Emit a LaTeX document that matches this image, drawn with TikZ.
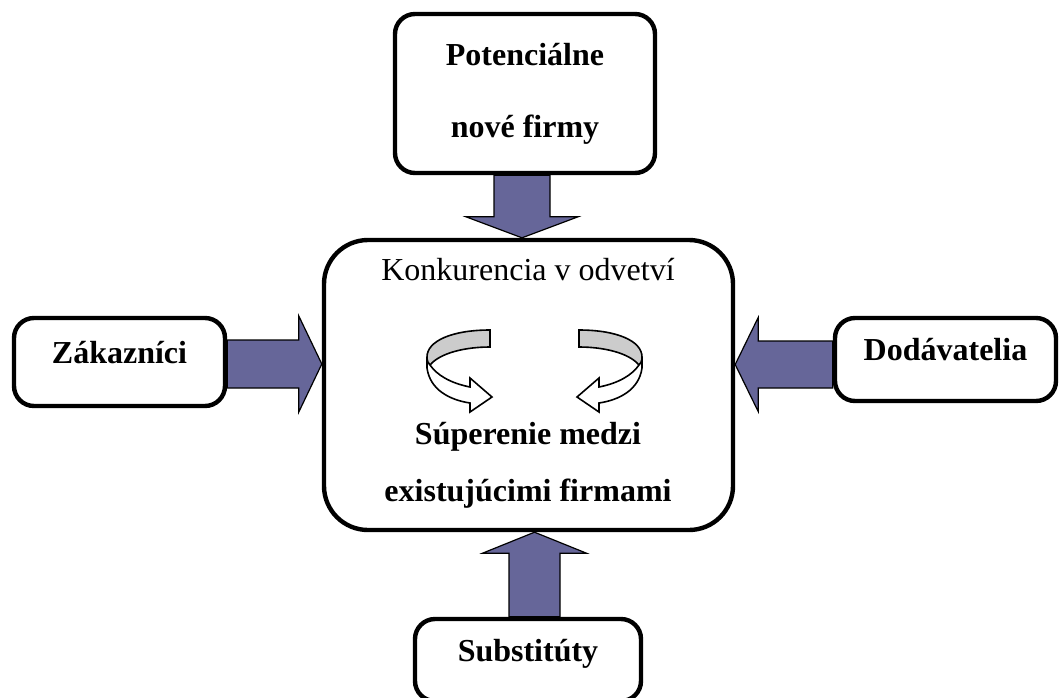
\documentclass[tikz,border=0pt]{standalone}
\usepackage{fontspec}
\setmainfont{Liberation Serif}
\usetikzlibrary{calc}
\definecolor{arrowblue}{RGB}{102,102,153}
\definecolor{bandgray}{RGB}{204,204,204}
\tikzset{
  box/.style={draw,line width=2.2pt,rounded corners=10pt,fill=white,align=center,
    font=\fontsize{16}{36}\selectfont\bfseries},
  fatarrow/.style={draw,line width=0.6pt,fill=arrowblue},
  swirl/.pic={
    \draw[line width=0.8pt,fill=bandgray](0,-35)..controls(-38,-35)and(-63,-24)..(-63,-8)
      ..controls(-63,-4)and(-62,-1)..(-60,0)..controls(-50,-12)and(-25,-18)..(0,-18)--cycle;
    \draw[line width=0.8pt,fill=white](-63,-8)--(-63,3)..controls(-60,25)and(-40,35)..(-20,38)
      --(-20,47)--(2,32)--(-20,13)--(-20,22)..controls(-40,18)and(-53,10)..(-60,0)
      ..controls(-62,-1)and(-63,-4)..(-63,-8)--cycle;
  }
}
\begin{document}
\begin{tikzpicture}[x=0.5pt,y=-0.5pt]
	\useasboundingbox (0,0) rectangle (1060,697);
	\clip (0,0) rectangle (1060,697);
	% boxes
	\node[box,minimum width=130pt,minimum height=79.5pt] (nove) at (525,93.5) {Potenciálne\\nové firmy};
	\node[box,rounded corners=22pt,minimum width=204.5pt,minimum height=145pt] (odv) at (528.5,385) {};
	\node[box,text depth=10pt,minimum width=105.5pt,minimum height=44pt] (zak) at (119.5,362) {Zákazníci};
	\node[box,text depth=10pt,minimum width=110.5pt,minimum height=41.5pt] (dod) at (945.5,359.5) {Dodávatelia};
	\node[box,text depth=10pt,minimum width=113pt,minimum height=41pt] (sub) at (528,660) {Substitúty};
	\node[font=\fontsize{16}{20}\selectfont] (konk) at (528,270) {Konkurencia v odvetví};
	\node[font=\fontsize{16}{28.5}\selectfont\bfseries,align=center] (super) at (528,465) {Súperenie medzi\\existujúcimi firmami};
	% block arrows
	\coordinate (na) at ($(nove.south)+(-3,0)$);
	\coordinate (nb) at (na |- odv.north);
	\draw[fatarrow] ($(na)+(-28,0)$)--($(nb)+(-28,-21)$)--($(nb)+(-56,-21)$)--(nb)
		--($(nb)+(56,-21)$)--($(nb)+(28,-21)$)--($(na)+(28,0)$)--cycle;
	\coordinate (za) at ($(zak.east)+(0,2)$);
	\coordinate (zb) at (za -| odv.west);
	\draw[fatarrow] ($(za)+(0,-24)$)--($(zb)+(-23,-24)$)--($(zb)+(-23,-48)$)--(zb)
		--($(zb)+(-23,48)$)--($(zb)+(-23,24)$)--($(za)+(0,24)$)--cycle;
	\coordinate (da) at ($(dod.west)+(0,5)$);
	\coordinate (db) at (da -| odv.east);
	\draw[fatarrow] ($(da)+(0,-23.5)$)--($(db)+(23,-23.5)$)--($(db)+(23,-47)$)--(db)
		--($(db)+(23,47)$)--($(db)+(23,23.5)$)--($(da)+(0,23.5)$)--cycle;
	\coordinate (sa) at ($(sub.north)+(6.5,0)$);
	\coordinate (sb) at (sa |- odv.south);
	\draw[fatarrow] ($(sa)+(-25.5,0)$)--($(sb)+(-25.5,21)$)--($(sb)+(-52,21)$)--(sb)
		--($(sb)+(52,21)$)--($(sb)+(25.5,21)$)--($(sa)+(25.5,0)$)--cycle;
	% rivalry swirls
	\pic at (490,365) {swirl};
	\pic[xscale=-1] at (579,365) {swirl};
\end{tikzpicture}
\end{document}
